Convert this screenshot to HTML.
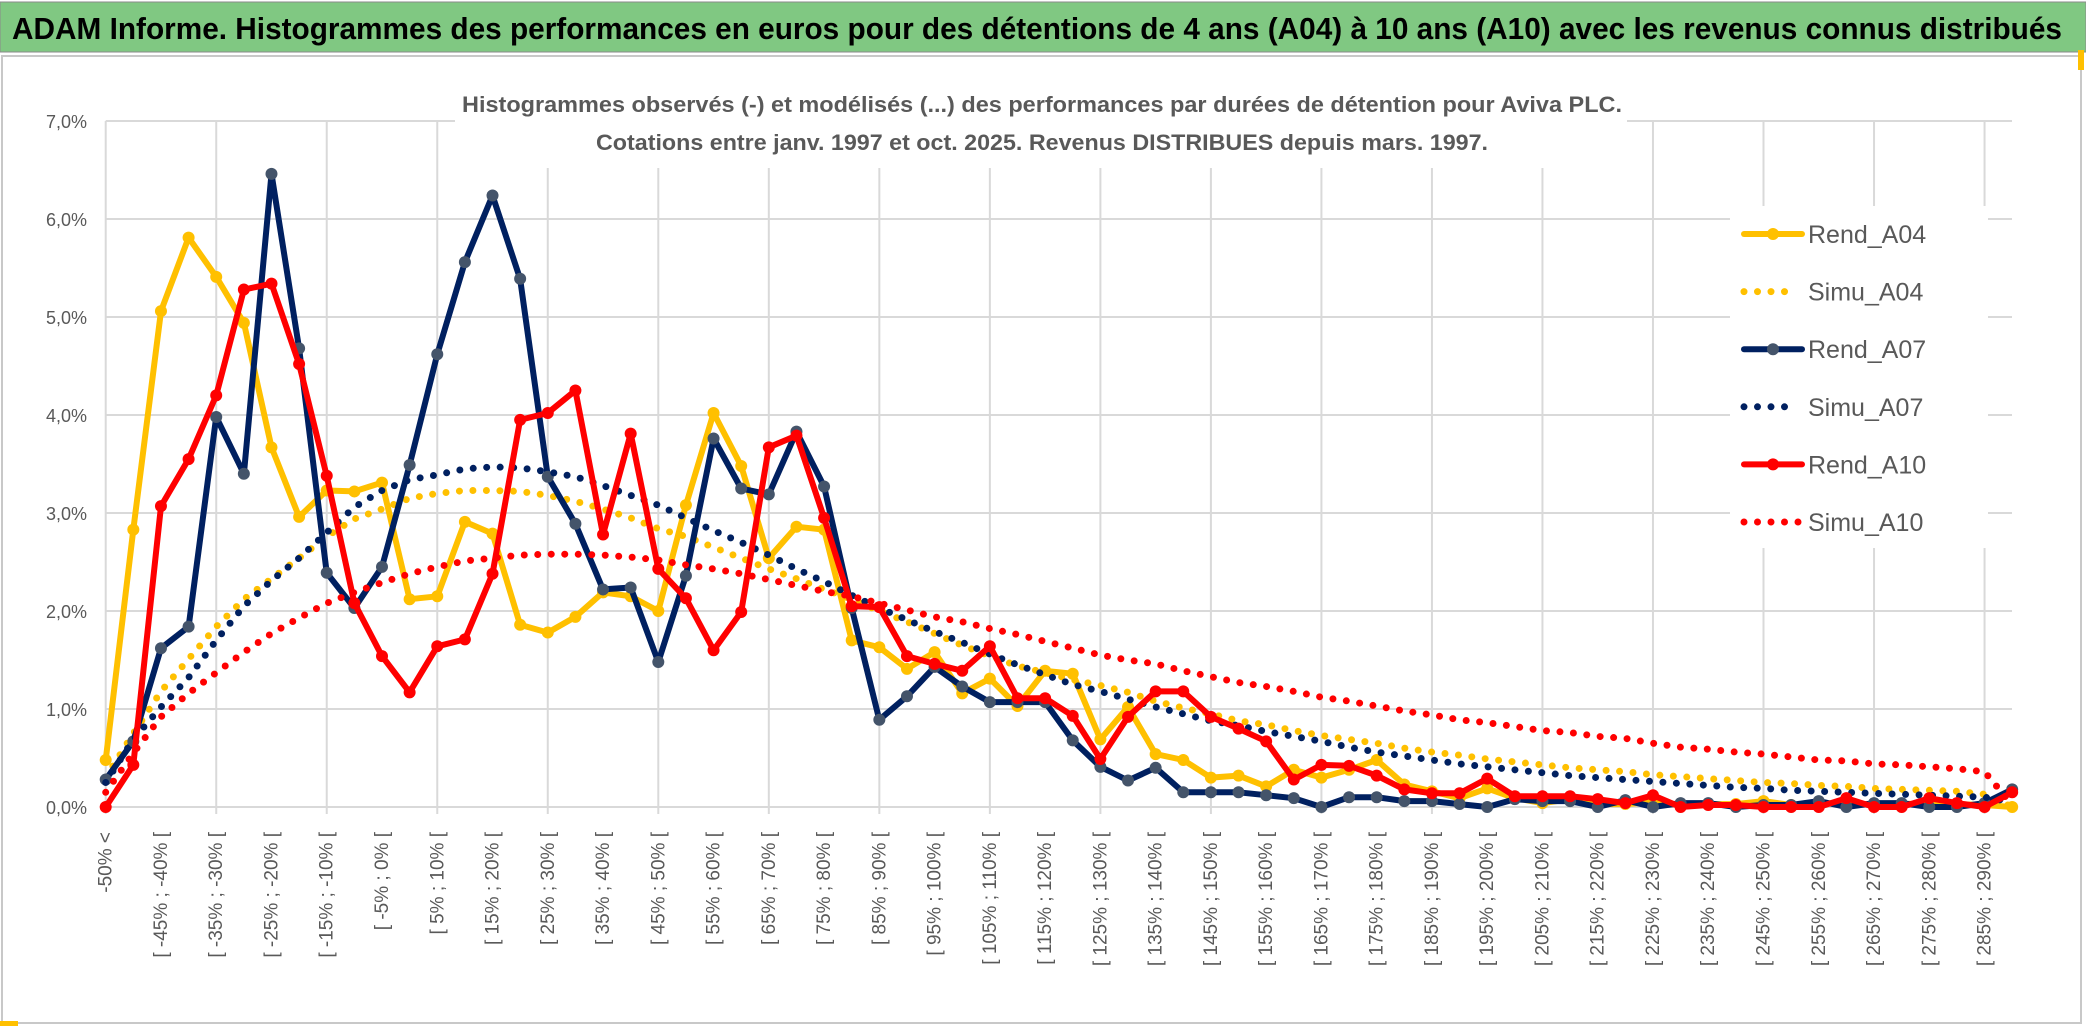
<!DOCTYPE html>
<html><head><meta charset="utf-8"><style>
html,body{margin:0;padding:0;background:#fff;width:2086px;height:1033px;overflow:hidden}
svg{display:block;font-family:"Liberation Sans",sans-serif}
</style></head><body>
<svg id="chart" width="2086" height="1033" viewBox="0 0 2086 1033" xmlns="http://www.w3.org/2000/svg">
<rect x="0" y="0" width="2086" height="1033" fill="#fff"/>
<rect x="0" y="2" width="2086" height="50" fill="#80c882" stroke="#8a8a8a" stroke-width="1"/>
<text x="12" y="39" font-size="31" font-weight="bold" fill="#000" textLength="2050" lengthAdjust="spacingAndGlyphs">ADAM Informe. Histogrammes des performances en euros pour des détentions de 4 ans (A04) à 10 ans (A10) avec les revenus connus distribués</text>
<rect x="2" y="56" width="2079" height="967" fill="none" stroke="#c8c8c8" stroke-width="2"/>
<rect x="0" y="1021" width="18" height="5" fill="#ffc000"/>
<rect x="2078" y="50" width="6" height="20" fill="#ffc000"/>
<g id="grid"></g>
<rect x="455" y="80" width="1172" height="88" fill="#fff"/>
<text x="1042" y="112" font-size="22" font-weight="bold" fill="#595959" text-anchor="middle" textLength="1160" lengthAdjust="spacingAndGlyphs">Histogrammes observés (-) et modélisés (...) des performances par durées de détention pour Aviva PLC.</text>
<text x="1042" y="150" font-size="22" font-weight="bold" fill="#595959" text-anchor="middle" textLength="892" lengthAdjust="spacingAndGlyphs">Cotations entre janv. 1997 et oct. 2025. Revenus DISTRIBUES depuis mars. 1997.</text>
<g id="axes"></g>
<g id="series"></g>
<rect x="1730" y="206" width="258" height="342" fill="#fff"/>
<g id="legend"></g>
</svg>
<script>
const categories = [];
for (let i = 0; i < 70; i++) {
  if (i === 0) categories.push('-50% <');
  else { const a = 5 * i - 55; categories.push('[ ' + a + '% ; ' + (a + 5) + '% ['); }
}
const yTicks = [0, 1, 2, 3, 4, 5, 6, 7];
const yTickLabels = ['0,0%', '1,0%', '2,0%', '3,0%', '4,0%', '5,0%', '6,0%', '7,0%'];
const seriesNames = ['Rend_A04', 'Simu_A04', 'Rend_A07', 'Simu_A07', 'Rend_A10', 'Simu_A10'];
const rendA04 = [0.48,2.83,5.06,5.81,5.41,4.94,3.67,2.96,3.23,3.22,3.31,2.12,2.15,2.91,2.79,1.86,1.78,1.94,2.19,2.15,2.0,3.08,4.02,3.48,2.54,2.86,2.83,1.70,1.63,1.41,1.58,1.16,1.31,1.03,1.39,1.36,
 0.69,1.02,0.54,0.48,0.30,0.32,0.21,0.38,0.30,0.38,0.48,0.23,0.16,0.09,0.19,0.09,0.04,0.08,
 0.03,0.03,0.05,0.02,0.03,0.03,0.06,0.02,0.03,0.05,0.02,0.03,0.04,0.03,0.02,0.0];
const simuA04 = [0.3,0.75,1.18,1.51,1.84,2.12,2.33,2.54,2.76,2.94,3.04,3.15,3.20,3.23,3.23,3.22,3.18,3.12,3.04,2.95,2.84,2.76,2.65,2.54,2.43,2.33,2.22,2.12,2.0,1.89,1.77,1.65,1.54,1.44,1.37,1.30,
 1.24,1.17,1.08,1.01,0.95,0.88,0.84,0.78,0.73,0.69,0.65,0.60,0.56,0.53,0.49,0.46,0.43,0.40,
 0.38,0.36,0.33,0.31,0.29,0.27,0.25,0.24,0.22,0.21,0.19,0.18,0.17,0.16,0.13,0.0];
const rendA07 = [0.28,0.67,1.62,1.84,3.98,3.40,6.46,4.68,2.39,2.03,2.45,3.49,4.62,5.56,6.24,5.39,3.37,2.89,2.22,2.24,1.48,2.36,3.76,3.25,3.19,3.83,3.27,2.03,0.89,1.13,1.43,1.23,1.07,1.07,1.07,0.68,
 0.41,0.27,0.40,0.15,0.15,0.15,0.12,0.09,0.0,0.10,0.10,0.06,0.06,0.03,0.0,0.08,0.06,0.06,
 0.0,0.07,0.0,0.04,0.04,0.0,0.02,0.02,0.06,0.0,0.04,0.04,0.0,0.0,0.04,0.18];
const simuA07 = [0.25,0.69,1.02,1.32,1.70,2.05,2.31,2.54,2.80,3.06,3.23,3.34,3.39,3.45,3.47,3.46,3.42,3.37,3.28,3.18,3.08,2.95,2.82,2.70,2.57,2.43,2.30,2.16,2.03,1.91,1.79,1.68,1.56,1.45,1.35,1.25,
 1.18,1.10,1.02,0.95,0.88,0.83,0.77,0.72,0.67,0.61,0.56,0.52,0.48,0.44,0.41,0.38,0.35,0.32,
 0.30,0.28,0.26,0.24,0.22,0.20,0.19,0.17,0.16,0.15,0.14,0.13,0.12,0.11,0.10,0.05];
const rendA10 = [0.0,0.43,3.07,3.55,4.20,5.28,5.34,4.52,3.38,2.08,1.54,1.17,1.64,1.71,2.38,3.95,4.02,4.25,2.78,3.81,2.43,2.13,1.60,1.99,3.67,3.79,2.95,2.05,2.04,1.54,1.46,1.39,1.64,1.11,1.11,0.93,
 0.49,0.92,1.18,1.18,0.92,0.80,0.67,0.28,0.43,0.42,0.32,0.18,0.14,0.14,0.29,0.11,0.11,0.11,
 0.08,0.04,0.12,0.0,0.02,0.02,0.0,0.0,0.0,0.09,0.0,0.0,0.09,0.04,0.0,0.15];
const simuA10 = [0.15,0.55,0.92,1.16,1.37,1.58,1.77,1.93,2.08,2.19,2.29,2.38,2.45,2.51,2.54,2.57,2.58,2.58,2.57,2.55,2.52,2.47,2.43,2.38,2.32,2.26,2.20,2.15,2.08,2.01,1.94,1.89,1.82,1.76,1.69,1.62,
 1.55,1.50,1.46,1.39,1.33,1.27,1.23,1.18,1.12,1.08,1.03,0.98,0.94,0.89,0.86,0.82,0.78,0.76,
 0.72,0.70,0.65,0.61,0.59,0.56,0.54,0.51,0.48,0.47,0.44,0.43,0.41,0.39,0.36,0.02];

const NS = 'http://www.w3.org/2000/svg';
const X0 = 105.7, STEP = 27.63, Y0 = 807, PER = 98.0, XR = 2012;
function xs(i) { return X0 + STEP * i; }
function ys(v) { return Y0 - v * PER; }
function mk(tag, attrs, parent) {
  const e = document.createElementNS(NS, tag);
  for (const k in attrs) e.setAttribute(k, attrs[k]);
  parent.appendChild(e);
  return e;
}
const grid = document.getElementById('grid');
const axes = document.getElementById('axes');
yTicks.forEach((t, k) => {
  const l = mk('line', {x1: X0, x2: XR, y1: ys(t), y2: ys(t), stroke: '#d9d9d9', 'stroke-width': 2}, grid);
  
  
  const tx = mk('text', {x: 87, y: ys(t) + 7, 'font-size': 18, fill: '#595959', 'text-anchor': 'end'}, axes);
  tx.textContent = yTickLabels[k];
  
  
});
for (let i = 0; i < categories.length; i += 4) {
  const l = mk('line', {x1: xs(i), x2: xs(i), y1: ys(7), y2: Y0 + 7, stroke: '#d9d9d9', 'stroke-width': 2}, grid);
  
  
}
for (let i = 0; i < categories.length; i += 2) {
  const x = xs(i) + 6, y = 832;
  const tx = mk('text', {x: x, y: y, 'font-size': 19, fill: '#595959', 'text-anchor': 'end', transform: 'rotate(-90 ' + x + ' ' + y + ')'}, axes);
  tx.textContent = categories[i];
  
  
}
const seriesG = document.getElementById('series');
function path(vals) { return vals.map((v, i) => (i ? 'L' : 'M') + xs(i).toFixed(1) + ' ' + ys(v).toFixed(1)).join(' '); }
function dotted(vals, color, name) {
  const p = mk('path', {d: path(vals), fill: 'none', stroke: color, 'stroke-width': 7, 'stroke-linecap': 'round', 'stroke-dasharray': '0 13.5'}, seriesG);
  
  
}
function solid(vals, color, mcolor, name) {
  const g = mk('g', {}, seriesG);
  
  
  mk('path', {d: path(vals), fill: 'none', stroke: color, 'stroke-width': 6, 'stroke-linejoin': 'round'}, g);
  vals.forEach((v, i) => {
    const c = mk('circle', {cx: xs(i), cy: ys(v), r: 6, fill: mcolor}, g);
    
    
  });
}
solid(rendA04, '#ffc000', '#ffc000', 'series-rend-a04');
dotted(simuA04, '#ffc000', 'series-simu-a04');
solid(rendA07, '#002060', '#44546a', 'series-rend-a07');
dotted(simuA07, '#002060', 'series-simu-a07');
solid(rendA10, '#ff0000', '#ff0000', 'series-rend-a10');
dotted(simuA10, '#ff0000', 'series-simu-a10');

const legend = document.getElementById('legend');
const legColors = ['#ffc000', '#ffc000', '#002060', '#002060', '#ff0000', '#ff0000'];
const legMarker = ['#ffc000', null, '#44546a', null, '#ff0000', null];
seriesNames.forEach((n, k) => {
  const y = 234 + k * 57.6;
  const g = mk('g', {}, legend);
  
  
  if (legMarker[k]) {
    mk('line', {x1: 1744, x2: 1802, y1: y, y2: y, stroke: legColors[k], 'stroke-width': 6, 'stroke-linecap': 'round'}, g);
    mk('circle', {cx: 1773, cy: y, r: 6, fill: legMarker[k]}, g);
  } else {
    mk('line', {x1: 1744, x2: k === 5 ? 1800 : 1790, y1: y, y2: y, stroke: legColors[k], 'stroke-width': 7, 'stroke-linecap': 'round', 'stroke-dasharray': '0 13.5'}, g);
  }
  const t = mk('text', {x: 1808, y: y + 9, 'font-size': 25, fill: '#595959'}, g);
  t.textContent = n;
});
</script>
</body></html>
